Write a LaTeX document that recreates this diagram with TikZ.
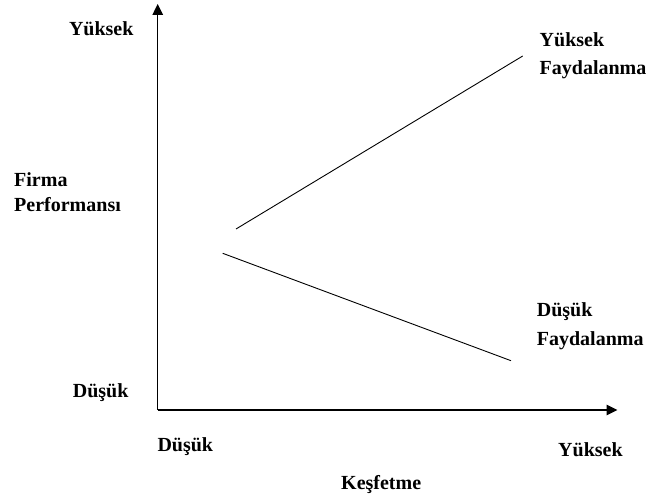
\documentclass[tikz,border=0pt]{standalone}
\usepackage{fontspec}
\setmainfont{Liberation Serif}
\usetikzlibrary{arrows.meta}
\begin{document}
\begin{tikzpicture}[x=1pt,y=-1pt,
  lbl/.style={anchor=base west,inner sep=0pt,font=\bfseries\fontsize{20}{24}\selectfont},
  axis/.style={line width=1.4pt,-{Triangle[length=11pt,width=10.5pt]}},
  trend/.style={line width=0.9pt}]
\useasboundingbox (0,0) rectangle (647,497);
% axes
\coordinate (o) at (157.7,410);
\coordinate (ytip) at (157.7,4);
\coordinate (xtip) at (617.5,410);
\draw[axis] (o) -- (ytip);
\draw[axis] (o) -- (xtip);
% trend lines
\coordinate (u1) at (236,229);
\coordinate (u2) at (522.7,56);
\coordinate (l1) at (222.7,253.3);
\coordinate (l2) at (511,360.7);
\draw[trend] (u1) -- (u2);
\draw[trend] (l1) -- (l2);
% labels
\node[lbl] (yhigh) at (68.8,36) {Yüksek};
\node[lbl] (firma) at (14,186) {Firma};
\node[lbl] (perf) at (14,211) {Performansı};
\node[lbl] (ylow) at (72.7,397) {Düşük};
\node[lbl] (xlow) at (157.3,451.7) {Düşük};
\node[lbl] (xhigh) at (558,456.7) {Yüksek};
\node[lbl] (kesf) at (341,489.3) {Keşfetme};
\node[lbl] (yf1) at (539.5,46.7) {Yüksek};
\node[lbl] (yf2) at (539.5,75) {Faydalanma};
\node[lbl] (df1) at (536.7,316) {Düşük};
\node[lbl] (df2) at (536.7,345) {Faydalanma};
\end{tikzpicture}
\end{document}
